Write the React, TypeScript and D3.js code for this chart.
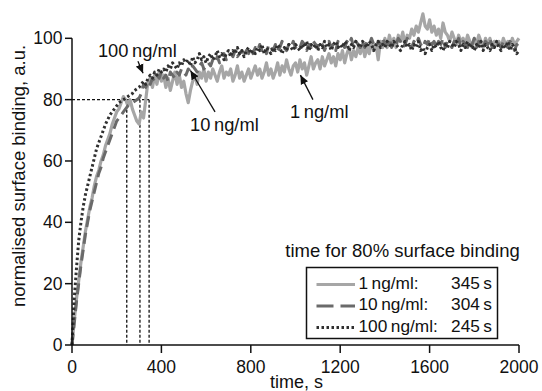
import React from "react";
import * as d3 from "d3";

const concentrations = ["1 ng/ml:", "10 ng/ml:", "100 ng/ml:"];
const timesTo80 = [345, 304, 245];
const xTicks = [0, 400, 800, 1200, 1600, 2000];
const yTicks = [0, 20, 40, 60, 80, 100];
const sampleStep = 10;

// 1 ng/ml, sampled every 10 s from 0 to 2000 s
const binding1 = [
  0, 8, 15, 21, 27, 32, 37, 41, 45, 48, 52,
  55, 57, 60, 62, 65, 67, 69, 72, 74, 76,
  77, 79, 81, 80, 78, 80, 77, 75, 73, 72,
  76, 74, 80, 86, 87, 84, 88, 85, 89, 86,
  88, 84, 87, 83, 86, 89, 85, 88, 84, 86,
  82, 79, 83, 86, 88, 85, 89, 87, 90, 86,
  89, 87, 90, 88, 86, 89, 91, 87, 89, 88,
  90, 86, 88, 91, 87, 89, 86, 88, 90, 87,
  89, 91, 88, 90, 87, 89, 92, 88, 90, 87,
  89, 92, 88, 91, 89, 93, 90, 88, 91, 92,
  89, 93, 90, 92, 88, 91, 94, 90, 92, 93,
  90, 94, 91, 93, 95, 92, 94, 91, 95, 93,
  96, 92, 95, 97, 93, 96, 94, 97, 95, 98,
  94, 97, 95, 99, 96, 98, 93, 99, 97, 100,
  97, 101, 98, 100, 97, 101, 99, 102, 98, 101,
  100, 103, 101, 104, 102, 105, 108, 104, 103, 106,
  102, 104, 101, 103, 100, 105, 102, 101, 99, 102,
  100, 98, 101, 99, 100, 98, 101, 99, 97, 100,
  98, 101, 99, 97, 100, 98, 100, 97, 99, 98,
  99, 97, 100, 98, 99, 97, 100, 98, 99, 100,
];

// 10 ng/ml
const binding10 = [
  0, 7, 14, 20, 26, 31, 36, 40, 44, 47, 50,
  53, 56, 58, 61, 63, 65, 67, 69, 71, 73,
  74, 75, 76, 77, 78, 78.5, 79, 79.5, 80, 80.5,
  82, 85, 84, 86, 85, 87, 86, 88, 87, 89,
  87, 88, 86, 89, 88, 87, 89, 88, 90, 89,
  88, 90, 89, 91, 90, 89, 91, 92, 90, 91,
  92, 91, 93, 92, 94, 92, 93, 95, 93, 94,
  95, 94, 96, 94, 95, 96, 94, 96, 95, 97,
  95, 97, 96, 98, 96, 97, 95, 98, 97, 96,
  98, 96, 97, 99, 97, 96, 98, 97, 99, 97,
  98, 97, 99, 98, 96, 98, 97, 99, 98, 97,
  99, 98, 96, 98, 99, 97, 98, 96, 99, 98,
  98, 97, 99, 98, 100, 97, 99, 98, 97, 99,
  97, 99, 98, 100, 98, 97, 99, 98, 100, 98,
  98, 100, 97, 99, 98, 100, 99, 97, 98, 100,
  99, 97, 99, 98, 100, 98, 97, 99, 98, 100,
  98, 99, 97, 99, 98, 100, 97, 99, 98, 97,
  99, 98, 100, 97, 99, 98, 97, 99, 98, 100,
  97, 99, 98, 97, 99, 98, 100, 97, 98, 99,
  98, 97, 99, 98, 97, 99, 98, 96, 98, 97,
];

// 100 ng/ml
const binding100 = [
  0, 15, 25, 34, 40, 45, 49, 52, 55, 58, 61,
  64, 66, 68, 70, 72, 73.5, 75, 76, 77, 78,
  79, 79.5, 80, 80.5, 81, 81.5, 82, 83, 83.5, 84,
  85, 86, 85, 87, 88, 87, 89, 88, 90, 89,
  90, 89, 91, 90, 92, 91, 90, 92, 91, 93,
  92, 93, 91, 94, 92, 93, 95, 93, 94, 92,
  94, 95, 93, 94, 96, 94, 95, 93, 95, 96,
  94, 96, 95, 97, 95, 96, 94, 96, 97, 95,
  96, 95, 97, 96, 98, 95, 97, 96, 95, 97,
  96, 98, 97, 95, 97, 96, 98, 97, 96, 98,
  97, 96, 98, 97, 99, 96, 98, 97, 98, 96,
  98, 97, 99, 97, 98, 96, 98, 99, 97, 98,
  97, 99, 98, 96, 98, 97, 99, 98, 97, 99,
  98, 97, 99, 98, 96, 98, 99, 97, 98, 97,
  99, 98, 97, 99, 98, 97, 96, 98, 99, 97,
  98, 96, 98, 97, 99, 96, 97, 95, 97, 98,
  96, 98, 97, 99, 97, 96, 98, 97, 99, 98,
  97, 99, 98, 96, 98, 97, 99, 97, 98, 96,
  98, 97, 99, 96, 98, 97, 96, 98, 97, 99,
  97, 96, 98, 97, 99, 96, 98, 97, 95, 96,
];

const seriesList = [binding1, binding10, binding100];
const seriesStyle = [
  { stroke: "#a6a6a6", width: 3.2, dash: "none" },
  { stroke: "#6a6a6a", width: 3, dash: "11,6" },
  { stroke: "#303030", width: 3, dash: "2.5,2.5" },
];

// annotations in data units: [text start t, text baseline v, tail t, tail v, tip t, tip v]
const annotationText = ["100\u2009ng/ml", "10\u2009ng/ml", "1\u2009ng/ml"];
const annotationPos = [
  [116, 93.8, 295, 92.5, 318, 88.6],
  [528, 69.8, 640, 76, 530, 89.5],
  [975, 73.9, 1078, 80, 1022, 88],
];

const FONT = "'Liberation Sans', Arial, Helvetica, sans-serif";

export default function App() {
  const W = 542;
  const H = 391;
  const x = d3.scaleLinear().domain([0, 2000]).range([72, 519]);
  const y = d3.scaleLinear().domain([0, 100]).range([345, 38.3]);

  const line = d3
    .line<number>()
    .x((_, i) => x(i * sampleStep))
    .y((d) => y(d));

  const legendX = 306.5;
  const legendY = 267.5;
  const rowH = 21.5;

  return (
    <svg
      width={W}
      height={H}
      style={{ position: "absolute", left: 0, top: 0, background: "#fff" }}
      fontFamily={FONT}
    >
      <defs>
        <marker
          id="arrow"
          viewBox="0 0 10 10"
          refX="10"
          refY="5"
          markerWidth="9"
          markerHeight="9"
          markerUnits="userSpaceOnUse"
          orient="auto"
        >
          <path d="M0,0.5 L10,5 L0,9.5 z" fill="#111" />
        </marker>
      </defs>

      {/* 80% guide lines */}
      <line
        x1={x(0)}
        x2={x(d3.max(timesTo80)!)}
        y1={y(80)}
        y2={y(80)}
        stroke="#111"
        strokeWidth={1.3}
        strokeDasharray="3,2"
      />
      {timesTo80.map((t, i) => (
        <line
          key={i}
          x1={x(t)}
          x2={x(t)}
          y1={y(80)}
          y2={y(0)}
          stroke="#111"
          strokeWidth={1.3}
          strokeDasharray="3,2"
        />
      ))}

      {/* series */}
      {seriesList.map((s, i) => (
        <path
          key={i}
          d={line(s)!}
          fill="none"
          stroke={seriesStyle[i].stroke}
          strokeWidth={seriesStyle[i].width}
          strokeDasharray={seriesStyle[i].dash}
          strokeLinejoin="round"
        />
      ))}

      {/* axes */}
      <line x1={x(0)} x2={x(0)} y1={y(0)} y2={y(100)} stroke="#111" strokeWidth={1.5} />
      <line x1={x(0)} x2={x(2000)} y1={y(0)} y2={y(0)} stroke="#111" strokeWidth={1.5} />
      {yTicks.map((v) => (
        <g key={v}>
          <line x1={x(0) - 7} x2={x(0)} y1={y(v)} y2={y(v)} stroke="#111" strokeWidth={1.5} />
          <text
            x={x(0) - 9.5}
            y={y(v)}
            dy="0.35em"
            textAnchor="end"
            fontSize={17.5}
            fill="#111"
          >
            {v}
          </text>
        </g>
      ))}
      {xTicks.map((t) => (
        <g key={t}>
          <line x1={x(t)} x2={x(t)} y1={y(0)} y2={y(0) + 8} stroke="#111" strokeWidth={1.5} />
          <text x={x(t)} y={373} textAnchor="middle" fontSize={17.5} fill="#111">
            {t}
          </text>
        </g>
      ))}
      <text x={296.5} y={387.5} textAnchor="middle" fontSize={18} fill="#111">
        time, s
      </text>
      <text
        transform={`translate(25,${(307 + 45) / 2}) rotate(-90)`}
        textAnchor="middle"
        fontSize={18.5}
        fill="#111"
      >
        normalised surface binding, a.u.
      </text>

      {/* annotations */}
      {annotationPos.map((p, i) => (
        <g key={i}>
          <text x={x(p[0])} y={y(p[1])} fontSize={18.3} fill="#111">
            {annotationText[i]}
          </text>
          <line
            x1={x(p[2])}
            y1={y(p[3])}
            x2={x(p[4])}
            y2={y(p[5])}
            stroke="#111"
            strokeWidth={1.3}
            markerEnd="url(#arrow)"
          />
        </g>
      ))}

      {/* legend */}
      <text x={402.5} y={257} textAnchor="middle" fontSize={18.5} fill="#111">
        time for 80% surface binding
      </text>
      <rect
        x={legendX}
        y={legendY}
        width={497.5 - legendX}
        height={338.5 - legendY}
        fill="#fff"
        stroke="#111"
        strokeWidth={1.5}
      />
      {concentrations.map((c, i) => (
        <g key={i}>
          <line
            x1={316.5}
            x2={355}
            y1={legendY + 17 + i * rowH}
            y2={legendY + 17 + i * rowH}
            stroke={seriesStyle[i].stroke}
            strokeWidth={seriesStyle[i].width}
            strokeDasharray={i === 1 ? "17,7" : seriesStyle[i].dash}
          />
          <text x={358.5} y={legendY + 21 + i * rowH} fontSize={17.3} fill="#111">
            {c.replace(" ", "\u2009")}
          </text>
          <text x={492} y={legendY + 21 + i * rowH} textAnchor="end" fontSize={17.3} fill="#111">
            {timesTo80[i] + "\u2009s"}
          </text>
        </g>
      ))}
    </svg>
  );
}
